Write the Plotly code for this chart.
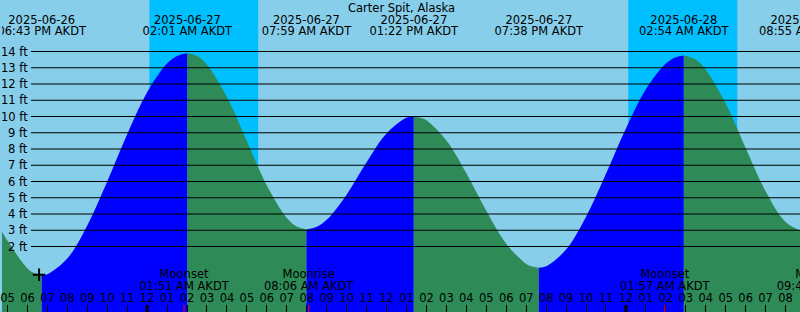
import plotly.graph_objects as go
import pandas as pd

# ---------------- data ----------------
STATION = "Carter Spit, Alaska"
TZ = "AKDT"

tide_times = [
    "2025-06-26 16:00", "2025-06-26 17:00", "2025-06-26 18:00", "2025-06-26 18:15",
    "2025-06-26 19:00", "2025-06-26 20:00", "2025-06-26 21:00", "2025-06-26 22:00",
    "2025-06-26 23:00", "2025-06-27 00:00", "2025-06-27 01:00", "2025-06-27 01:30",
    "2025-06-27 02:30", "2025-06-27 03:00", "2025-06-27 04:00", "2025-06-27 05:00",
    "2025-06-27 06:00", "2025-06-27 07:00", "2025-06-27 07:30", "2025-06-27 08:30",
    "2025-06-27 09:00", "2025-06-27 10:00", "2025-06-27 11:00", "2025-06-27 12:00",
    "2025-06-27 13:00", "2025-06-27 13:45", "2025-06-27 14:00", "2025-06-27 15:00",
    "2025-06-27 16:00", "2025-06-27 17:00", "2025-06-27 18:00", "2025-06-27 19:00",
    "2025-06-27 19:15", "2025-06-27 20:00", "2025-06-27 21:00", "2025-06-27 22:00",
    "2025-06-27 23:00", "2025-06-28 00:00", "2025-06-28 01:00", "2025-06-28 02:00",
    "2025-06-28 02:30", "2025-06-28 03:30", "2025-06-28 04:00", "2025-06-28 05:00",
    "2025-06-28 06:00", "2025-06-28 07:00", "2025-06-28 08:00",
]
tide_ft = [
    4.5, 2.35, 0.65, 0.42,
    0.30, 1.26, 3.29, 6.00,
    8.91, 11.49, 13.26, 13.73,
    13.73, 13.19, 11.20, 8.48,
    5.75, 3.76, 3.23, 3.21,
    3.64, 5.19, 7.18, 8.95,
    9.92, 9.91, 9.77, 8.53,
    6.51, 4.20, 2.17, 0.93,
    0.79, 0.78, 1.81, 3.83,
    6.47, 9.26, 11.67, 13.26,
    13.65, 13.49, 12.88, 10.80,
    8.06, 5.40, 3.51,
]

ext_times = ["2025-06-26 18:43", "2025-06-27 02:01", "2025-06-27 07:59", "2025-06-27 13:22",
             "2025-06-27 19:38", "2025-06-28 02:54", "2025-06-28 08:55"]
ext_kind = ["L", "H", "L", "H", "L", "H", "L"]
ext_ft = [0.25, 13.9, 3.05, 10.0, 0.7, 13.75, 2.9]

moon_times = ["2025-06-27 01:51", "2025-06-27 08:06", "2025-06-28 01:57", "2025-06-28 09:48"]
moon_events = ["Moonset", "Moonrise", "Moonset", "Moonrise"]

night_start = ["2025-06-27 00:07", "2025-06-28 00:07"]
night_end = ["2025-06-27 05:34", "2025-06-28 05:35"]

now_time = "2025-06-26 18:35"
now_ft = 0.26

grid_ft = list(range(2, 15))

view_start = "2025-06-26 16:43:30"
view_end = "2025-06-28 08:43:30"

# ---------------- styling / layout constants ----------------
W, H = 800, 312
PX_PER_FT = 16.25
ZERO_PX = 279.0
YMIN = -(H - ZERO_PX) / PX_PER_FT
YMAX = ZERO_PX / PX_PER_FT
FONT = "DejaVu Sans"
FS = 11.5
SKY = "#87CEEB"
NIGHT = "#00BFFF"
RISE = "#0000FF"
FALL = "#2E8B57"

fig = go.Figure()

# ---------------- tide fills ----------------
samples = [(pd.Timestamp(t), h) for t, h in zip(tide_times, tide_ft)]
extremes = [(pd.Timestamp(t), h, k) for t, h, k in zip(ext_times, ext_ft, ext_kind)]

prev_t, prev_h = None, None
for et, eh, ek in extremes:
    pts = []
    if prev_t is not None:
        pts.append((prev_t, prev_h))
    lo = prev_t
    pts += [(t, h) for t, h in samples if (lo is None or t > lo) and t < et]
    pts.append((et, eh))
    xs = [p[0] for p in pts]
    ys = [p[1] for p in pts]
    color = RISE if ek == "H" else FALL
    fig.add_trace(go.Scatter(x=[xs[0], xs[-1]], y=[YMIN - 1, YMIN - 1], mode="lines",
                             line=dict(width=0), hoverinfo="skip", showlegend=False))
    fig.add_trace(go.Scatter(x=xs, y=ys, mode="lines", line=dict(width=0, shape="spline"),
                             fill="tonexty", fillcolor=color, hoverinfo="skip",
                             showlegend=False))
    prev_t, prev_h = et, eh

# current-time marker
fig.add_trace(go.Scatter(x=[now_time], y=[now_ft], mode="markers",
                         marker=dict(symbol="cross-thin", size=9,
                                     line=dict(width=2, color="black")),
                         hoverinfo="skip", showlegend=False))

# ---------------- event labels (pixel y-axis) ----------------
ext_ts = [pd.Timestamp(t) for t in ext_times]
date_txt = [t.strftime("%Y-%m-%d") for t in ext_ts]
time_txt = [t.strftime("%I:%M %p ") + TZ for t in ext_ts]
moon_ts = [pd.Timestamp(t) for t in moon_times]
moon_time_txt = [t.strftime("%I:%M %p ") + TZ for t in moon_ts]

tf = dict(family=FONT, size=FS, color="black")
for xs, ypx, txt in [(ext_ts, 21.5, date_txt), (ext_ts, 32.5, time_txt),
                     (moon_ts, 275.5, moon_events), (moon_ts, 287, moon_time_txt)]:
    fig.add_trace(go.Scatter(x=xs, y=[ypx] * len(xs), yaxis="y2", mode="text",
                             text=txt, textposition="middle center", textfont=tf,
                             hoverinfo="skip", showlegend=False))

# ---------------- shapes ----------------
shapes = []
for s, e in zip(night_start, night_end):
    shapes.append(dict(type="rect", xref="x", yref="paper", x0=s, x1=e, y0=0, y1=1,
                       fillcolor=NIGHT, line=dict(width=0), layer="below"))
for v in grid_ft:
    shapes.append(dict(type="line", xref="paper", yref="y", x0=29 / W, x1=1, y0=v, y1=v,
                       line=dict(color="black", width=1), layer="above"))
for m in pd.date_range(pd.Timestamp(view_start).ceil("D"), pd.Timestamp(view_end), freq="D"):
    shapes.append(dict(type="line", xref="x", yref="y2", x0=m, x1=m, y0=H - 7, y1=H,
                       line=dict(color="black", width=3), layer="above"))
for t in moon_times:
    shapes.append(dict(type="line", xref="x", yref="y2", x0=t, x1=t, y0=H - 7, y1=H,
                       line=dict(color="red", width=1), layer="above"))

annotations = [dict(x=0.5, y=1 - 7.5 / H, xref="paper", yref="paper", text=STATION,
                    showarrow=False, xanchor="center", yanchor="middle", font=tf)]
for v in grid_ft:
    annotations.append(dict(x=27 / W, y=v, xref="paper", yref="y", text=f"{v} ft",
                            showarrow=False, xanchor="right", yanchor="middle", font=tf,
                            borderpad=0))

fig.update_layout(
    width=W, height=H, margin=dict(l=0, r=0, t=0, b=0),
    plot_bgcolor=SKY, paper_bgcolor=SKY, showlegend=False,
    shapes=shapes, annotations=annotations,
    xaxis=dict(type="date", range=[view_start, view_end], tickmode="linear",
               tick0="2025-06-26 00:00", dtick=3600000, tickformat="%I",
               ticks="inside", ticklen=7, tickwidth=1, tickcolor="black",
               ticklabelposition="inside", ticklabeloverflow="allow",
               tickfont=tf, showgrid=False, zeroline=False, showline=False,
               fixedrange=True),
    yaxis=dict(range=[YMIN, YMAX], visible=False, fixedrange=True),
    yaxis2=dict(range=[H, 0], overlaying="y", visible=False, fixedrange=True),
)

fig.write_html("out.html")
